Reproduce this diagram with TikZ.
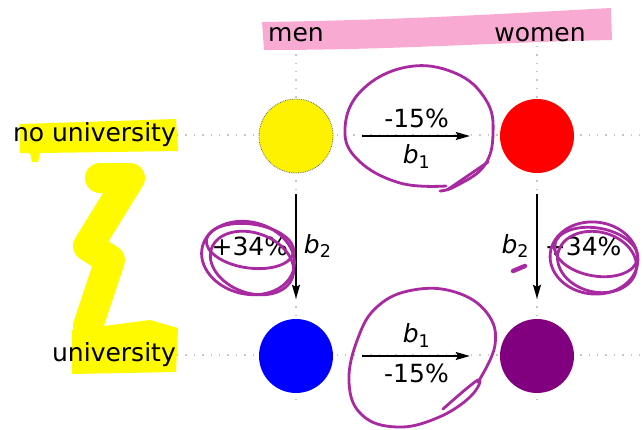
\documentclass[tikz,border=0pt]{standalone}
\usepackage{fontspec}
\setmainfont{DejaVu Sans}
\usepackage{xcolor}
\usepackage{tikz}
\usetikzlibrary{positioning,arrows.meta,calc,backgrounds}

\definecolor{inkmagenta}{RGB}{168,42,160}
\definecolor{hlpink}{RGB}{249,170,210}
\definecolor{hlyellow}{RGB}{255,250,0}
\definecolor{grpurple}{RGB}{128,0,128}

\tikzset{
  group/.style={circle, minimum size=74pt, inner sep=0pt},
  effect/.style={-{Stealth[length=14pt,width=8pt,inset=2pt]}, line width=1.2pt,
                 shorten <=29pt, shorten >=30pt},
  gridline/.style={gray!45, dash pattern=on 1.4pt off 7pt, line width=1.4pt},
  ink/.style={inkmagenta, line width=2.8pt, line cap=round, line join=round},
  marker/.style={hlyellow, line width=30pt, line cap=round, line join=round},
}

\begin{document}
\begin{tikzpicture}[x=1pt, y=-1pt, font=\fontsize{25}{29}\selectfont]
  \useasboundingbox (0,0) rectangle (643,429);

  % groups
  \node[group, fill=yellow, draw=black!60, densely dotted, line width=0.8pt] (ym) at (296,136) {};
  \node[group, fill=red] (rw) at (537,136) {};
  \node[group, fill=blue] (bm) at (296,356) {};
  \node[group, fill=grpurple] (pw) at (537,356) {};

  % axis labels
  \node (men) at (296,35) {men};
  \node (women) at (540,35) {women};
  \node[anchor=east, inner sep=1pt] (nouni) at (177,135) {no university};
  \node[anchor=east, inner sep=1pt] (uni) at (177,355) {university};

  % effects
  \draw[effect] (ym) -- (rw)
    node[midway, above=4pt] (dtop) {-15\%}
    node[midway, below=5pt] (btop) {\textit{b}\textsubscript{1}};
  \draw[effect] (bm) -- (pw)
    node[midway, above=5pt] (bbot) {\textit{b}\textsubscript{1}}
    node[midway, below=4pt] (dbot) {-15\%};
  \draw[effect, shorten <=21pt, shorten >=20pt] (ym) -- (bm)
    node[midway, left=4pt] (dleft) {+34\%}
    node[midway, right=4pt] (bleft) {\textit{b}\textsubscript{2}};
  \draw[effect, shorten <=21pt, shorten >=20pt] (rw) -- (pw)
    node[midway, left=4pt] (bright) {\textit{b}\textsubscript{2}}
    node[midway, right=4pt] (dright) {+34\%};

  \begin{scope}[on background layer]
    % highlighter
    \fill[hlpink] (262,22) .. controls (400,20) and (500,14) .. (611,8)
      -- (612,40) .. controls (500,42) and (400,50) .. (264,50) -- cycle;
    \fill[hlyellow] (20,124) -- (176,119) -- (178,151) -- (40,153)
      -- (38,162) -- (32,162) -- (30,153) -- (20,153) -- cycle;
    \draw[marker] (100,178) -- (130,178) -- (88,246) -- (110,260) -- (88,326);
    \fill[hlyellow] (72,330) -- (150,320) -- (178,328) -- (176,372)
      -- (72,374) -- cycle;
    % grid
    \draw[gridline] (nouni.east) -- (643,135);
    \draw[gridline] (uni.east) -- (643,355);
    \draw[gridline] (men.south) -- (296,405);
    \draw[gridline] (women.south -| rw) -- (537,405);
  \end{scope}

  % pen marks
  \draw[ink] plot[smooth, tension=0.7] coordinates {(446,186) (400,183) (358,160)
    (345,128) (362,90) (407,67) (455,73) (486,100) (493,134) (484,166) (456,186) (440,191)};
  \draw[ink] (488,162) -- (447,190);
  \draw[ink] plot[smooth, tension=0.7] coordinates {(478,382) (495,345) (487,313)
    (455,292) (413,290) (378,306) (358,338) (349,382) (362,415) (397,427)
    (437,418) (470,397) (478,380) (443,409)};
  \draw[ink] (250,246) ellipse [x radius=44, y radius=22, rotate=-8];
  \draw[ink] (248,258) ellipse [x radius=47, y radius=36, rotate=-14];
  \draw[ink] (252,263) ellipse [x radius=43, y radius=30, rotate=-20];
  \draw[ink] (596,252) ellipse [x radius=42, y radius=24, rotate=-10];
  \draw[ink] (594,258) ellipse [x radius=44, y radius=36, rotate=-6];
  \draw[ink] (597,262) ellipse [x radius=40, y radius=30, rotate=-14];
  \draw[ink, line width=4.5pt] (513,271) -- (525,266);
\end{tikzpicture}
\end{document}
